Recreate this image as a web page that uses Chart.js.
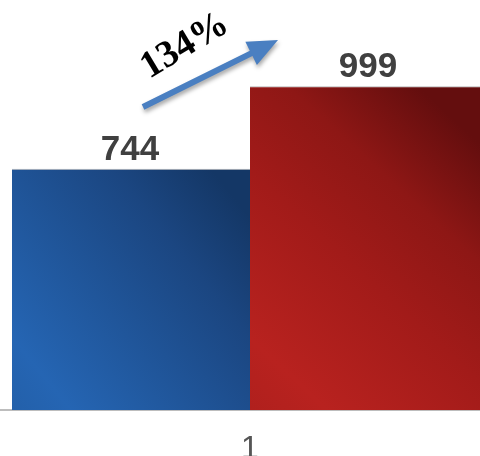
<!DOCTYPE html>
<html>
<head>
<meta charset="utf-8">
<script src="https://cdn.jsdelivr.net/npm/chart.js@4/dist/chart.umd.min.js"></script>
<style>
  html, body { margin: 0; padding: 0; background: #ffffff; overflow: hidden; }
  #wrap { width: 480px; height: 456px; overflow: hidden; position: relative; }
  #holder { width: 500px; height: 456px; position: absolute; left: 0; top: 0; }
</style>
</head>
<body>
<div id="wrap"><div id="holder"><canvas id="c" width="500" height="456"></canvas></div></div>
<script>
// ---- data ----
const categories = ['1'];
const seriesNames = ['A', 'B'];
const seriesA = [744];
const seriesB = [999];
const changeLabel = '134%';
const yMin = 0;
const yMax = 1200;

// gradient stops per series (bottom-left -> top-right)
const gradStops = [
  [[0, '#2360aa'], [0.15, '#2565b3'], [0.5, '#1f5396'], [0.75, '#1b4681'], [1, '#143766']],
  [[0, '#b0201d'], [0.15, '#b8221f'], [0.5, '#a21b19'], [0.75, '#8e1715'], [1, '#640e0e']]
];

function barGradient(ctx) {
  const chart = ctx.chart;
  const area = chart.chartArea;
  const i = ctx.datasetIndex;
  if (!area) return gradStops[i][1][1];
  const xs = chart.scales.x;
  const ys = chart.scales.y;
  const center = xs.getPixelForValue(0);
  const catW = area.right - area.left;
  const total = catW * 0.952;
  const bw = total / 2;
  const left = center - total / 2 + i * bw;
  const right = left + bw;
  const bottom = ys.getPixelForValue(0);
  const top = ys.getPixelForValue(chart.data.datasets[i].data[0]);
  const g = chart.ctx.createLinearGradient(left, bottom, right, top + (bottom - top) * 0.2);
  gradStops[i].forEach(s => g.addColorStop(s[0], s[1]));
  return g;
}

const labelPlugin = {
  id: 'valueLabels',
  afterDatasetsDraw(chart) {
    const ctx = chart.ctx;
    ctx.save();
    ctx.font = 'bold 35px "Liberation Sans", Arial, sans-serif';
    ctx.fillStyle = '#404040';
    ctx.textAlign = 'center';
    ctx.textBaseline = 'alphabetic';
    chart.data.datasets.forEach((ds, i) => {
      const meta = chart.getDatasetMeta(i);
      meta.data.forEach((bar, j) => {
        ctx.fillText(String(ds.data[j]), bar.x - 1, bar.y - 9);
      });
    });
    ctx.restore();
  }
};

const arrowPlugin = {
  id: 'changeArrow',
  afterDraw(chart) {
    const ctx = chart.ctx;
    const x0 = 143, y0 = 107, x1 = 278, y1 = 40;
    const ang = Math.atan2(y1 - y0, x1 - x0);
    const len = Math.hypot(x1 - x0, y1 - y0);
    const headL = 30, headW = 13, shaftW = 3;
    ctx.save();
    ctx.translate(x0, y0);
    ctx.rotate(ang);
    ctx.shadowColor = 'rgba(0,0,0,0.35)';
    ctx.shadowBlur = 4;
    ctx.shadowOffsetX = 1;
    ctx.shadowOffsetY = 3;
    ctx.fillStyle = '#4a7fc1';
    ctx.beginPath();
    ctx.moveTo(0, -shaftW);
    ctx.lineTo(len - headL, -shaftW);
    ctx.lineTo(len - headL, -headW);
    ctx.lineTo(len, 0);
    ctx.lineTo(len - headL, headW);
    ctx.lineTo(len - headL, shaftW);
    ctx.lineTo(0, shaftW);
    ctx.closePath();
    ctx.fill();
    ctx.restore();

    ctx.save();
    ctx.translate(185, 46);
    ctx.rotate(-31 * Math.PI / 180);
    ctx.font = 'bold 38px "Liberation Serif", "Times New Roman", serif';
    ctx.fillStyle = '#000000';
    ctx.textAlign = 'center';
    ctx.textBaseline = 'middle';
    ctx.fillText(changeLabel, 0, 0);
    ctx.restore();
  }
};

new Chart(document.getElementById('c'), {
  type: 'bar',
  data: {
    labels: categories,
    datasets: [
      { label: seriesNames[0], data: seriesA, backgroundColor: barGradient,
        borderColor: 'rgba(150,150,150,0.7)', borderWidth: { top: 1, left: 0, right: 0, bottom: 0 }, borderSkipped: 'bottom' },
      { label: seriesNames[1], data: seriesB, backgroundColor: barGradient,
        borderColor: 'rgba(150,150,150,0.7)', borderWidth: { top: 1, left: 0, right: 0, bottom: 0 }, borderSkipped: 'bottom' }
    ]
  },
  options: {
    responsive: false,
    animation: false,
    devicePixelRatio: 1,
    layout: { padding: { top: 21, left: 0, right: 0, bottom: 0 } },
    plugins: { legend: { display: false }, tooltip: { enabled: false } },
    datasets: { bar: { categoryPercentage: 0.952, barPercentage: 1.0 } },
    scales: {
      x: {
        grid: { display: false, drawTicks: false },
        border: { display: true, color: '#bdbdbd', width: 2 },
        ticks: { color: '#555555', font: { family: '"Liberation Sans", Arial, sans-serif', size: 32 }, padding: 20 },
        afterFit(scale) { scale.height = 46; }
      },
      y: {
        display: false,
        min: yMin,
        max: yMax
      }
    }
  },
  plugins: [labelPlugin, arrowPlugin]
});
</script>
</body>
</html>
